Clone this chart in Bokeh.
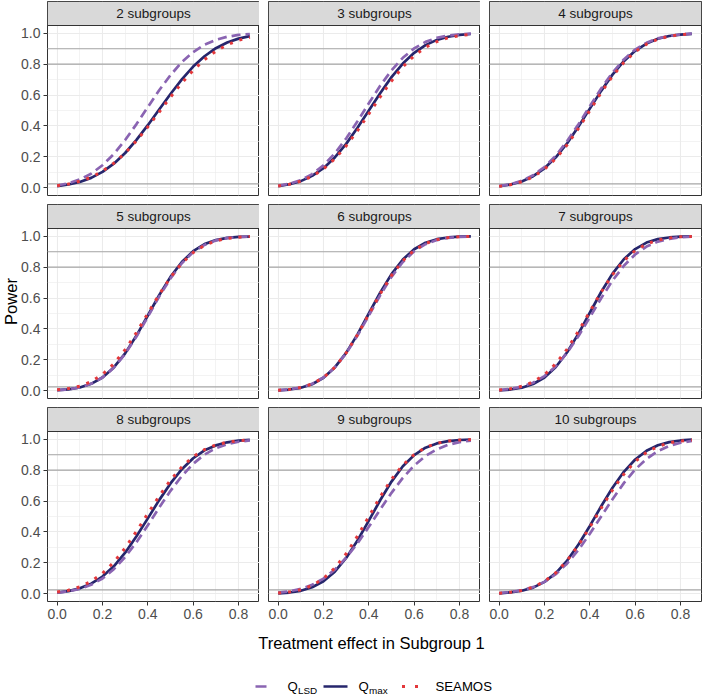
import numpy as np
from bokeh.plotting import figure
from bokeh.models import Range1d, FixedTicker, Span, Label, NumeralTickFormatter
from bokeh.layouts import gridplot, row, column
from bokeh.embed import file_html
from bokeh.resources import INLINE

# ---------------- data ----------------
x = [0.00, 0.05, 0.10, 0.15, 0.20, 0.25, 0.30, 0.35, 0.40,
     0.45, 0.50, 0.55, 0.60, 0.65, 0.70, 0.75, 0.80, 0.85]

panel_labels = ["2 subgroups", "3 subgroups", "4 subgroups",
                "5 subgroups", "6 subgroups", "7 subgroups",
                "8 subgroups", "9 subgroups", "10 subgroups"]

ref_lines = [0.025, 0.8, 0.9]
x_ticks = [0.0, 0.2, 0.4, 0.6, 0.8]
x_minor = [0.1, 0.3, 0.5, 0.7]
y_ticks = [0.0, 0.2, 0.4, 0.6, 0.8, 1.0]
y_minor = [0.1, 0.3, 0.5, 0.7, 0.9]

qlsd_2 = [0.015, 0.029, 0.054, 0.091, 0.146, 0.218, 0.309, 0.412, 0.522, 0.631, 0.729, 0.813, 0.878, 0.926, 0.957, 0.977, 0.989, 0.995]
qmax_2 = [0.011, 0.021, 0.038, 0.064, 0.103, 0.156, 0.225, 0.310, 0.405, 0.506, 0.607, 0.701, 0.784, 0.851, 0.903, 0.940, 0.965, 0.981]
seamos_2 = [0.013, 0.024, 0.042, 0.068, 0.107, 0.159, 0.225, 0.304, 0.394, 0.490, 0.587, 0.678, 0.760, 0.829, 0.884, 0.925, 0.954, 0.973]

qlsd_3 = [0.013, 0.026, 0.050, 0.088, 0.145, 0.222, 0.319, 0.430, 0.547, 0.660, 0.760, 0.841, 0.902, 0.944, 0.970, 0.985, 0.993, 0.997]
qmax_3 = [0.011, 0.023, 0.043, 0.077, 0.127, 0.196, 0.284, 0.388, 0.500, 0.612, 0.716, 0.804, 0.873, 0.923, 0.957, 0.977, 0.989, 0.995]
seamos_3 = [0.011, 0.023, 0.043, 0.074, 0.122, 0.187, 0.271, 0.369, 0.478, 0.588, 0.691, 0.782, 0.854, 0.909, 0.946, 0.971, 0.985, 0.993]

qlsd_4 = [0.011, 0.023, 0.045, 0.081, 0.134, 0.208, 0.302, 0.411, 0.528, 0.642, 0.745, 0.830, 0.894, 0.938, 0.967, 0.983, 0.992, 0.997]
qmax_4 = [0.010, 0.021, 0.041, 0.075, 0.126, 0.197, 0.288, 0.396, 0.512, 0.627, 0.732, 0.819, 0.886, 0.933, 0.964, 0.982, 0.991, 0.996]
seamos_4 = [0.009, 0.020, 0.039, 0.071, 0.120, 0.189, 0.278, 0.384, 0.500, 0.616, 0.722, 0.811, 0.880, 0.929, 0.961, 0.980, 0.991, 0.996]

qlsd_5 = [0.004, 0.009, 0.021, 0.045, 0.086, 0.149, 0.239, 0.351, 0.479, 0.609, 0.727, 0.825, 0.897, 0.944, 0.973, 0.988, 0.995, 0.998]
qmax_5 = [0.004, 0.009, 0.021, 0.045, 0.086, 0.151, 0.242, 0.357, 0.487, 0.618, 0.737, 0.833, 0.903, 0.949, 0.975, 0.989, 0.996, 0.998]
seamos_5 = [0.006, 0.014, 0.030, 0.059, 0.106, 0.174, 0.266, 0.377, 0.500, 0.623, 0.734, 0.826, 0.894, 0.941, 0.970, 0.986, 0.994, 0.998]

qlsd_6 = [0.004, 0.009, 0.021, 0.045, 0.086, 0.151, 0.242, 0.357, 0.487, 0.618, 0.737, 0.833, 0.903, 0.949, 0.975, 0.989, 0.996, 0.998]
qmax_6 = [0.003, 0.008, 0.019, 0.042, 0.084, 0.151, 0.245, 0.365, 0.500, 0.635, 0.755, 0.849, 0.916, 0.958, 0.981, 0.992, 0.997, 0.999]
seamos_6 = [0.003, 0.009, 0.021, 0.044, 0.086, 0.152, 0.245, 0.363, 0.495, 0.627, 0.746, 0.841, 0.910, 0.953, 0.978, 0.991, 0.996, 0.999]

qlsd_7 = [0.005, 0.012, 0.026, 0.052, 0.095, 0.159, 0.246, 0.354, 0.475, 0.599, 0.713, 0.809, 0.882, 0.933, 0.965, 0.983, 0.993, 0.997]
qmax_7 = [0.003, 0.008, 0.020, 0.044, 0.086, 0.154, 0.249, 0.370, 0.505, 0.639, 0.758, 0.851, 0.917, 0.959, 0.981, 0.992, 0.997, 0.999]
seamos_7 = [0.005, 0.013, 0.029, 0.057, 0.104, 0.175, 0.270, 0.386, 0.513, 0.639, 0.751, 0.841, 0.907, 0.950, 0.975, 0.989, 0.996, 0.998]

qlsd_8 = [0.008, 0.016, 0.032, 0.058, 0.099, 0.159, 0.238, 0.334, 0.443, 0.557, 0.666, 0.762, 0.841, 0.901, 0.942, 0.968, 0.984, 0.992]
qmax_8 = [0.008, 0.017, 0.035, 0.065, 0.111, 0.178, 0.266, 0.372, 0.488, 0.606, 0.714, 0.806, 0.877, 0.928, 0.960, 0.980, 0.991, 0.996]
seamos_8 = [0.011, 0.023, 0.045, 0.080, 0.132, 0.204, 0.296, 0.404, 0.519, 0.632, 0.735, 0.821, 0.887, 0.933, 0.963, 0.981, 0.991, 0.996]

qlsd_9 = [0.008, 0.016, 0.032, 0.058, 0.098, 0.156, 0.233, 0.327, 0.433, 0.545, 0.653, 0.750, 0.830, 0.892, 0.935, 0.964, 0.981, 0.991]
qmax_9 = [0.003, 0.008, 0.019, 0.042, 0.081, 0.143, 0.232, 0.345, 0.473, 0.605, 0.726, 0.825, 0.897, 0.945, 0.973, 0.988, 0.995, 0.998]
seamos_9 = [0.005, 0.012, 0.026, 0.053, 0.099, 0.167, 0.259, 0.373, 0.500, 0.627, 0.741, 0.833, 0.901, 0.947, 0.974, 0.988, 0.995, 0.998]

qlsd_10 = [0.005, 0.011, 0.023, 0.043, 0.077, 0.127, 0.196, 0.284, 0.388, 0.500, 0.612, 0.716, 0.804, 0.873, 0.923, 0.957, 0.977, 0.989]
qmax_10 = [0.003, 0.009, 0.020, 0.040, 0.077, 0.134, 0.215, 0.319, 0.439, 0.566, 0.686, 0.789, 0.869, 0.925, 0.961, 0.981, 0.992, 0.997]
seamos_10 = [0.004, 0.010, 0.021, 0.043, 0.080, 0.136, 0.215, 0.315, 0.431, 0.554, 0.672, 0.774, 0.856, 0.915, 0.953, 0.977, 0.989, 0.995]

series = [
    (qlsd_2, qmax_2, seamos_2), (qlsd_3, qmax_3, seamos_3), (qlsd_4, qmax_4, seamos_4),
    (qlsd_5, qmax_5, seamos_5), (qlsd_6, qmax_6, seamos_6), (qlsd_7, qmax_7, seamos_7),
    (qlsd_8, qmax_8, seamos_8), (qlsd_9, qmax_9, seamos_9), (qlsd_10, qmax_10, seamos_10),
]

# ---------------- style ----------------
FONT = "Liberation Sans"
PURPLE = "#8A64B2"
NAVY = "#26266C"
RED = "#E3383B"
STRIP = 24
PLOT_H = 170
FW = 212
X0, X1 = -0.0425, 0.8925
Y0, Y1 = -0.05, 1.05
YT = Y1 + (Y1 - Y0) * STRIP / PLOT_H
LEFT_W = 18
AXIS_H = 24
DASH_LSD = "9 5"
DASH_SEA = "3 7"


def make_panel(i, j, label, lsd, qmax, sea):
    p = figure(frame_width=FW, frame_height=PLOT_H + STRIP,
               x_range=Range1d(X0, X1), y_range=Range1d(Y0, YT),
               output_backend="svg", toolbar_location=None, tools="",
               title=None,
               x_axis_location="below" if i == 2 else None,
               y_axis_location="left" if j == 0 else None,
               min_border_left=26 if j == 0 else 9,
               min_border_right=2 if j == 2 else 0,
               min_border_top=1 if i == 0 else 0,
               min_border_bottom=9 if i < 2 else 0,
               background_fill_color="white", border_fill_color="white",
               outline_line_color="#333333", outline_line_width=1)
    p.xgrid.ticker = FixedTicker(ticks=x_ticks, minor_ticks=x_minor)
    p.ygrid.ticker = FixedTicker(ticks=y_ticks, minor_ticks=y_minor)
    for g in (p.xgrid, p.ygrid):
        g.grid_line_color = "#EBEBEB"
        g.grid_line_width = 1.1
        g.minor_grid_line_color = "#EBEBEB"
        g.minor_grid_line_width = 0.6
    for ax, tk in ((p.xaxis, x_ticks), (p.yaxis, y_ticks)):
        for a in ax:
            a.ticker = FixedTicker(ticks=tk)
            a.formatter = NumeralTickFormatter(format="0.0")
            a.major_label_text_font = FONT
            a.major_label_text_font_size = "14px"
            a.major_label_text_color = "#4D4D4D"
            a.major_tick_line_color = "#333333"
            a.major_tick_out = 4
            a.major_tick_in = 0
            a.minor_tick_line_color = None
            a.axis_line_color = None
            a.major_label_standoff = 3
    for h in ref_lines:
        p.add_layout(Span(location=h, dimension="width", line_color="#A6A6A6",
                          line_width=1.1, level="underlay"))
    p.line(x, qmax, line_color=NAVY, line_width=2.7)
    p.line(x, lsd, line_color=PURPLE, line_width=2.7, line_dash=DASH_LSD)
    p.line(x, sea, line_color=RED, line_width=3, line_dash=DASH_SEA)
    p.quad(left=[X0], right=[X1], bottom=[Y1], top=[YT],
           fill_color="#D9D9D9", line_color="#333333", line_width=1)
    p.add_layout(Label(x=(X0 + X1) / 2, y=(Y1 + YT) / 2, text=label,
                       text_align="center", text_baseline="middle",
                       text_font=FONT, text_font_size="13.5px",
                       text_color="#1A1A1A"))
    return p


grid_rows = []
for i in range(3):
    r = []
    for j in range(3):
        k = i * 3 + j
        lsd, qmax, sea = series[k]
        r.append(make_panel(i, j, panel_labels[k], lsd, qmax, sea))
    grid_rows.append(r)

grid = gridplot(grid_rows, toolbar_location=None)

PANELS_H = 3 * (STRIP + PLOT_H) + 18
GRID_H = 1 + PANELS_H + AXIS_H
power_fig = figure(width=LEFT_W, height=GRID_H, x_range=Range1d(0, LEFT_W),
                   y_range=Range1d(0, GRID_H), output_backend="svg",
                   toolbar_location=None, tools="", title=None,
                   x_axis_location=None, y_axis_location=None,
                   min_border=0, outline_line_color=None)
power_fig.xgrid.visible = False
power_fig.ygrid.visible = False
center_y = GRID_H - (1 + PANELS_H / 2.0)
power_fig.add_layout(Label(x=LEFT_W / 2 + 1, y=center_y, text="Power",
                           angle=np.pi / 2, text_align="center",
                           text_baseline="middle", text_font=FONT,
                           text_font_size="16.5px", text_color="#000000"))

TOTAL_W = LEFT_W + (26 + FW) + (9 + FW) + (9 + FW + 2)
BOT_H = 72
bottom = figure(width=TOTAL_W, height=BOT_H, x_range=Range1d(0, TOTAL_W),
                y_range=Range1d(0, BOT_H), output_backend="svg",
                toolbar_location=None, tools="", title=None,
                x_axis_location=None, y_axis_location=None,
                min_border=0, outline_line_color=None)
bottom.xgrid.visible = False
bottom.ygrid.visible = False

C = LEFT_W + 26 + (3 * FW + 18) / 2.0
bottom.add_layout(Label(x=C, y=BOT_H - 17, text="Treatment effect in Subgroup 1",
                        text_align="center", text_baseline="middle",
                        text_font=FONT, text_font_size="16.5px",
                        text_color="#000000"))

LY = 11
bottom.segment(x0=[C - 116], y0=[LY], x1=[C - 105], y1=[LY],
               line_color=PURPLE, line_width=2.7)
bottom.segment(x0=[C - 48], y0=[LY], x1=[C - 24], y1=[LY],
               line_color=NAVY, line_width=2.7)
bottom.segment(x0=[C + 30.5], y0=[LY], x1=[C + 48], y1=[LY],
               line_color=RED, line_width=3, line_dash="3 10")


def leg_text(xpos, ypos, txt, size):
    bottom.add_layout(Label(x=xpos, y=ypos, text=txt, text_align="left",
                            text_baseline="middle", text_font=FONT,
                            text_font_size=size, text_color="#000000"))


leg_text(C - 84, LY, "Q", "13.2px")
leg_text(C - 73.5, LY - 4, "LSD", "9.9px")
leg_text(C - 13, LY, "Q", "13.2px")
leg_text(C - 2.5, LY - 4, "max", "9.9px")
leg_text(C + 64, LY, "SEAMOS", "13.2px")

layout = column(row(power_fig, grid), bottom)

open("out.html", "w").write(file_html(layout, INLINE))
